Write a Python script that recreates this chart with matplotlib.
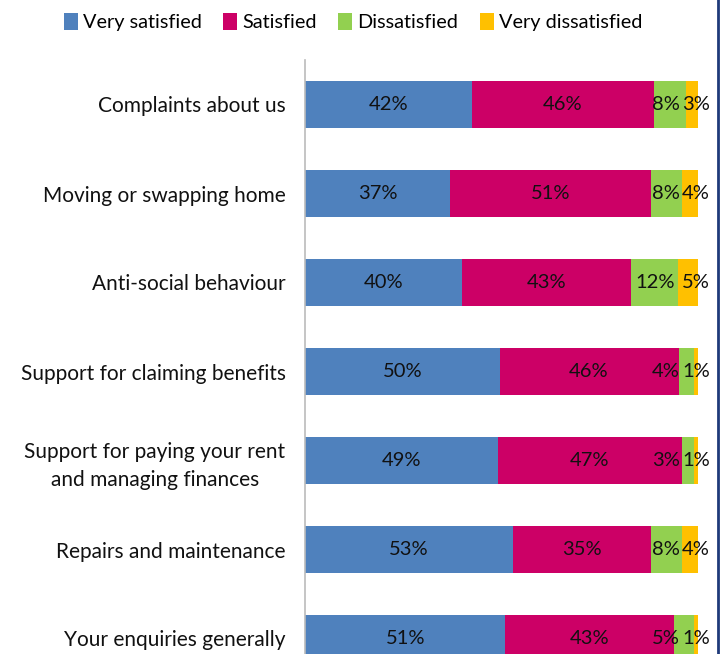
import matplotlib.pyplot as plt
from matplotlib.lines import Line2D
import numpy as np

plt.rcParams['font.family'] = ['Lato', 'DejaVu Sans']

categories = [
    "Complaints about us",
    "Moving or swapping home",
    "Anti-social behaviour",
    "Support for claiming benefits",
    "Support for paying your rent\nand managing finances",
    "Repairs and maintenance",
    "Your enquiries generally",
]
series = ["Very satisfied", "Satisfied", "Dissatisfied", "Very dissatisfied"]
very_satisfied = [42, 37, 40, 50, 49, 53, 51]
satisfied = [46, 51, 43, 46, 47, 35, 43]
dissatisfied = [8, 8, 12, 4, 3, 8, 5]
very_dissatisfied = [3, 4, 5, 1, 1, 4, 1]
colors = ["#4F81BD", "#CC0066", "#92D050", "#FFC000"]

values = np.array([very_satisfied, satisfied, dissatisfied, very_dissatisfied], dtype=float)
shares = values / values.sum(axis=0) * 100  # stacked to 100%

fig = plt.figure(figsize=(7.21, 6.54), dpi=100)
# axes extends below the figure so the last bar is cut like the original
ax = fig.add_axes([305 / 721, 1 - 683 / 654, 393 / 721, 623 / 654])

y = np.arange(len(categories))
left = np.zeros(len(categories))
for i, name in enumerate(series):
    ax.barh(y, shares[i], left=left, height=0.52, color=colors[i], label=name, linewidth=0)
    for j in range(len(categories)):
        cx = left[j] + shares[i][j] / 2
        txt = f"{int(values[i][j])}%"
        ha = 'center'
        if i == 3:
            # last labels sit right at the bar end
            cx = max(cx, 99.4)
        elif i == 2 and cx + 3.6 > 95.5:
            # small "dissatisfied" labels get pushed left so they don't hit the last one
            cx, ha = 95.3, 'right'
        ax.text(cx, y[j], txt, ha=ha, va='center', fontsize=14.5, color='#111111')
    left += shares[i]

ax.set_xlim(0, 100)
ax.set_ylim(len(categories) - 0.5, -0.5)
ax.set_yticks(y)
ax.set_yticklabels(categories, fontsize=15, multialignment='center', linespacing=1.45,
                   color='#111111')
ax.tick_params(axis='y', length=0, pad=14)
ax.set_xticks([])
for s in ['top', 'right', 'bottom']:
    ax.spines[s].set_visible(False)
ax.spines['left'].set_color('#BBBBBB')
ax.spines['left'].set_linewidth(1.2)

fig.legend(loc='center', bbox_to_anchor=(353 / 721, 1 - 22 / 654), ncol=4, frameon=False,
           fontsize=14.3, handlelength=0.7, handleheight=1.0, handletextpad=0.25,
           columnspacing=1.1, borderaxespad=0)

fig.add_artist(Line2D([718 / 721, 718 / 721], [0, 1], color='#1F3A7A', linewidth=2))

fig.savefig("out.png", dpi=100)
